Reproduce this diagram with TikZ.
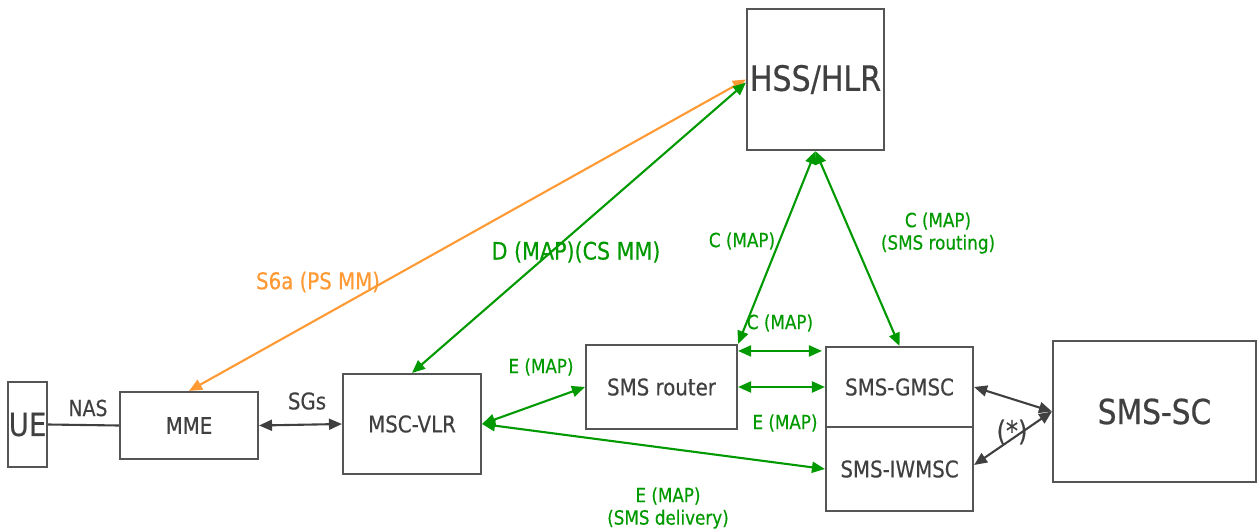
\documentclass[tikz,border=0pt]{standalone}
\usepackage{fontspec}
\setmainfont{DejaVu Sans}[FakeStretch=0.86, FakeBold=0.4]
\usetikzlibrary{arrows.meta,calc}
\definecolor{txt}{HTML}{404040}
\definecolor{frame}{HTML}{555555}
\definecolor{mapgreen}{HTML}{009900}
\definecolor{s6orange}{HTML}{FF9933}
\newcommand\fsz[1]{\fontsize{#1pt}{1.15\dimexpr#1pt\relax}\selectfont}

\begin{document}
\begin{tikzpicture}[x=1pt,y=-1pt,
  box/.style={draw=frame, line width=2.1pt, fill=white, text=txt, inner sep=0pt, font=\fsz{23}},
  tip/.tip={Triangle[length=13pt,width=11pt]},
  link/.style={line width=2.1pt, tip-tip},
  greenlink/.style={link, draw=mapgreen, fill=mapgreen},
  greylink/.style={link, draw=txt, fill=txt},
  greenlbl/.style={text=mapgreen, inner sep=0pt, align=center, font=\fsz{19.5}},
  greylbl/.style={text=txt, inner sep=0pt, font=\fsz{23}}]
\useasboundingbox (0,0) rectangle (1257,532);

% network elements
\node[box, minimum width=39, minimum height=85, font=\fsz{32}] (ue) at (27.5,424.5) {UE};
\node[box, minimum width=138, minimum height=67] (mme) at (189,425.5) {MME};
\node[box, minimum width=138, minimum height=100] (msc) at (412,424) {MSC-VLR};
\node[box, minimum width=151, minimum height=84] (router) at (661.5,387) {SMS router};
\node[box, minimum width=147, minimum height=80] (gmsc) at (899.5,387) {SMS-GMSC};
\node[box, minimum width=147, minimum height=84] (iwmsc) at (899.5,469) {SMS-IWMSC};
\node[box, minimum width=203, minimum height=141, font=\fsz{34.5}] (sc) at (1154.5,411.5) {SMS-SC};
\node[box, minimum width=137, minimum height=141, font=\fsz{35}] (hss) at (815.5,79.5) {HSS/HLR};

% UE - MME (NAS) and MME - MSC (SGs)
\draw[line width=2.1pt, draw=txt] (ue.east) -- (mme.west);
\node[greylbl, font=\fsz{22}] (nas) at (88,408) {NAS};
\draw[greylink] (mme.east) -- (msc.west);
\node[greylbl] (sgs) at (307,401) {SGs};

% S6a and D interfaces towards the HSS/HLR
\draw[link, draw=s6orange, fill=s6orange] (mme.north) -- (hss.west);
\node[text=s6orange, inner sep=0pt, font=\fsz{23}] (s6a) at (318,282) {S6a (PS MM)};
\draw[greenlink] ([yshift=-3pt]hss.west) -- (msc.north);
\node[greenlbl, font=\fsz{24}] (dlbl) at (576,252) {D (MAP)(CS MM)};

% C interfaces
\draw[greenlink] (hss.south) -- (router.north east);
\node[greenlbl] (c1) at (742,241) {C (MAP)};
\draw[greenlink] (hss.south) -- (gmsc.north);
\node[greenlbl] (c2) at (938,233) {C (MAP)\\(SMS routing)};
\draw[greenlink] ([yshift=-7pt]router.north east) -- ([yshift=-5pt,xshift=-3pt]gmsc.north west);
\node[greenlbl] (c3) at (780,323) {C (MAP)};

% E interfaces
\draw[greenlink] (router.east) -- (gmsc.west);
\node[greenlbl] (e1) at (785,423) {E (MAP)};
\draw[greenlink] (msc.east) -- (router.west);
\node[greenlbl] (e2) at (541,367) {E (MAP)};
\draw[greenlink] (msc.east) -- (iwmsc.west);
\node[greenlbl] (e3) at (668,508) {E (MAP)\\(SMS delivery)};

% SMS-SC links
\draw[greylink] (gmsc.east) -- (sc.west);
\draw[greylink] ([yshift=4pt]iwmsc.east) -- (sc.west);
\node[greylbl, font=\fsz{28}] (star) at (1012,432) {(*)};
\end{tikzpicture}
\end{document}
